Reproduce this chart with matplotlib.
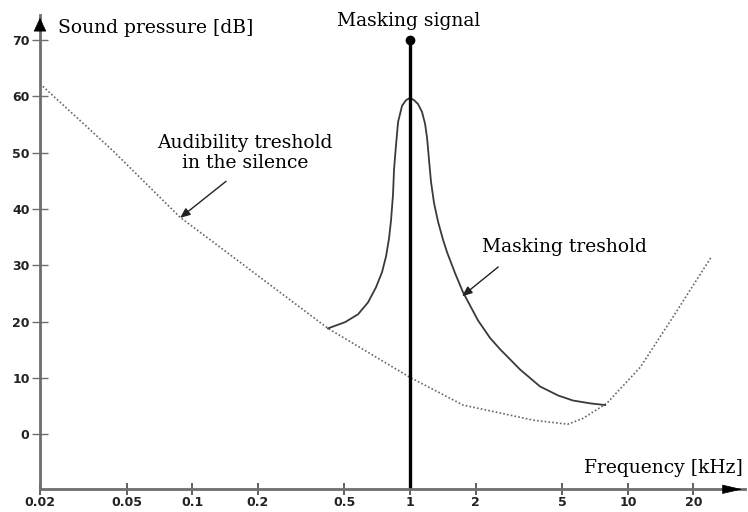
import matplotlib
matplotlib.use("Agg")
import matplotlib.pyplot as plt

# audibility threshold in silence (kHz, dB)
thr_khz = [0.02, 0.043, 0.088, 0.11, 0.42, 1.0, 1.75, 3.7, 5.3, 6.2, 8.0, 11.4, 16.1, 24.0]
thr_db = [62.2, 50.4, 38.5, 35.7, 18.8, 10.1, 5.2, 2.5, 1.8, 2.8, 5.5, 11.9, 20.8, 31.3]

# masking threshold around the 1 kHz tone
mask_khz = [0.42, 0.503, 0.577, 0.641, 0.698, 0.744, 0.776, 0.801, 0.818, 0.835, 0.844,
            0.862, 0.881, 0.919, 0.959, 1.0,
            1.043, 1.088, 1.135, 1.172, 1.197, 1.222, 1.248, 1.289, 1.345, 1.418, 1.479,
            1.609, 1.751, 2.052, 2.33, 2.59, 3.20, 3.95, 4.78, 5.60, 6.71, 7.86]
mask_db = [18.8, 19.9, 21.3, 23.4, 26.1, 28.8, 31.6, 34.8, 38.0, 42.5, 46.9,
           51.3, 55.4, 58.3, 59.3, 59.7,
           59.3, 58.6, 57.2, 55.1, 52.6, 48.7, 44.8, 41.0, 37.7, 34.5, 32.3,
           28.6, 25.2, 20.2, 17.1, 15.1, 11.5, 8.5, 6.9, 6.0, 5.5, 5.2]

# masking tone
signal_khz = 1.0
signal_db = 70

xticks = [0.02, 0.05, 0.1, 0.2, 0.5, 1, 2, 5, 10, 20]
xtick_labels = ["0.02", "0.05", "0.1", "0.2", "0.5", "1", "2", "5", "10", "20"]
yticks = [0, 10, 20, 30, 40, 50, 60, 70]

serif = "DejaVu Serif"
axis_grey = "#6e6e6e"
fsize = 13.5

fig = plt.figure(figsize=(7.48, 5.12), dpi=100)
ax = fig.add_axes([40 / 748, 1 - 489.3 / 512, 705 / 748, 474.3 / 512])
ax.set_xscale("log")
ax.set_xlim(0.02, 34.5)
ax.set_ylim(-9.75, 74.4)

ax.plot(thr_khz, thr_db, color="#666666", lw=1.2, linestyle=(0, (1, 1.3)))
ax.plot(mask_khz, mask_db, color="#3a3a3a", lw=1.3)
ax.plot([signal_khz, signal_khz], [-9.75, signal_db], color="black", lw=2.4, solid_capstyle="butt")
ax.plot(signal_khz, signal_db, "o", color="black", ms=6)

for side in ["top", "right"]:
    ax.spines[side].set_visible(False)
for side in ["left", "bottom"]:
    ax.spines[side].set_color(axis_grey)
    ax.spines[side].set_linewidth(2.0)

# arrow heads on the axes
ax.annotate("", xy=(1.0, 0), xytext=(0.975, 0), xycoords="axes fraction",
            arrowprops=dict(arrowstyle="-|>,head_length=1.3,head_width=0.3", color="black", lw=0.5))
ax.annotate("", xy=(0, 1.0), xytext=(0, 0.975), xycoords="axes fraction",
            arrowprops=dict(arrowstyle="-|>,head_length=0.9,head_width=0.42", color="black", lw=0.5),
            annotation_clip=False)

ax.set_xticks(xticks)
ax.set_xticklabels(xtick_labels)
ax.xaxis.set_minor_locator(matplotlib.ticker.NullLocator())
ax.set_yticks(yticks)
ax.tick_params(axis="y", direction="inout", length=11, width=1, color=axis_grey, pad=2)
ax.tick_params(axis="x", direction="inout", length=8, width=1.2, color="#444444", pad=1)
for lab in ax.get_xticklabels() + ax.get_yticklabels():
    lab.set_fontweight("bold")
    lab.set_fontsize(9)
    lab.set_color("#222222")

ax.text(0.0242, 72.1, "Sound pressure [dB]", family=serif, fontsize=fsize, ha="left", va="center")
ax.text(0.99, 72.5, "Masking signal", family=serif, fontsize=fsize, ha="center", va="baseline")
ax.text(33.8, -6.0, "Frequency [kHz]", family=serif, fontsize=fsize, ha="right", va="center")

ax.text(0.1747, 49.9, "Audibility treshold\nin the silence", family=serif, fontsize=fsize,
        ha="center", va="center", linespacing=1.2)
ax.annotate("", xy=(0.0879, 38.4), xytext=(0.143, 44.9),
            arrowprops=dict(arrowstyle="-|>,head_length=0.6,head_width=0.25", color="#222222", lw=1,
                            shrinkA=0, shrinkB=0))

ax.text(2.14, 33.2, "Masking treshold", family=serif, fontsize=fsize, ha="left", va="center")
ax.annotate("", xy=(1.733, 24.5), xytext=(2.54, 29.7),
            arrowprops=dict(arrowstyle="-|>,head_length=0.6,head_width=0.25", color="#222222", lw=1,
                            shrinkA=0, shrinkB=0))

fig.savefig("out.png", dpi=100)
